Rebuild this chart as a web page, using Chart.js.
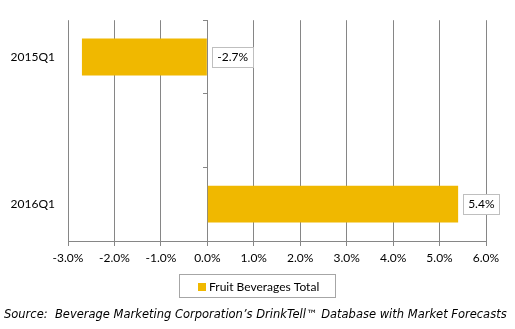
<!DOCTYPE html>
<html>
<head>
<meta charset="utf-8">
<script src="https://cdn.jsdelivr.net/npm/chart.js@4/dist/chart.umd.min.js"></script>
<style>
  html, body { margin: 0; padding: 0; background: #fff; }
  #wrap { width: 515px; height: 329px; }
</style>
</head>
<body>
<div id="wrap"><canvas id="bars" width="515" height="329"></canvas></div>
<script>
// categories (middle slot is an empty spacer row)
const periods = ['2015Q1', '', '2016Q1'];
const growth = [-2.7, null, 5.4];
const seriesName = 'Fruit Beverages Total';
const xTicks = [-3, -2, -1, 0, 1, 2, 3, 4, 5, 6];
const sourceNote = 'Source:  Beverage Marketing Corporation\u2019s DrinkTell\u2122 Database with Market Forecasts';

const gold = 'rgb(240, 184, 0)';
const gridGray = '#868686';
const font = 'Lato';

// value boxes next to each bar
const valueBoxes = {
    id: 'valueBoxes',
    afterDatasetsDraw(chart) {
        const ctx = chart.ctx;
        const meta = chart.getDatasetMeta(0);
        const x = chart.scales.x;
        ctx.save();
        ctx.font = '12px ' + font;
        ctx.textBaseline = 'middle';
        meta.data.forEach((bar, i) => {
            const v = growth[i];
            if (v == null) return;
            const txt = v.toFixed(1) + '%';
            const w = ctx.measureText(txt).width + 10;
            const left = Math.max(x.getPixelForValue(v), x.getPixelForValue(0)) + 5;
            const top = Math.round(bar.y - 10);
            ctx.fillStyle = '#fff';
            ctx.fillRect(left, top, w, 20);
            ctx.strokeStyle = '#bfbfbf';
            ctx.lineWidth = 1;
            ctx.strokeRect(Math.round(left) + 0.5, top + 0.5, Math.round(w), 20);
            ctx.fillStyle = '#000';
            ctx.fillText(txt, left + 5, top + 10.5);
        });
        ctx.restore();
    }
};

// boxed legend and source line under the axis
const footer = {
    id: 'footer',
    afterDraw(chart) {
        const ctx = chart.ctx;
        ctx.save();
        ctx.font = '12px ' + font;
        const tw = ctx.measureText(seriesName).width;
        const bw = 30 + tw + 16;
        const bx = Math.round(chart.width / 2 - bw / 2) + 0.5;
        const by = 274.5;
        ctx.strokeStyle = '#a6a6a6';
        ctx.lineWidth = 1;
        ctx.strokeRect(bx, by, Math.round(bw), 23);
        ctx.fillStyle = gold;
        ctx.fillRect(bx + 18.5, by + 8.5, 8, 8);
        ctx.fillStyle = '#000';
        ctx.textBaseline = 'middle';
        ctx.fillText(seriesName, bx + 29.5, by + 12.5);

        ctx.font = 'italic 11.5px "DejaVu Sans"';
        ctx.fillText(sourceNote, 4, 315, 504);
        ctx.restore();
    }
};

new Chart(document.getElementById('bars'), {
    type: 'bar',
    data: {
        labels: periods,
        datasets: [{
            label: seriesName,
            data: growth,
            backgroundColor: gold,
            borderWidth: 0,
            barPercentage: 0.5,
            categoryPercentage: 1
        }]
    },
    options: {
        indexAxis: 'y',
        responsive: false,
        animation: false,
        layout: { padding: { top: 16, right: 29, bottom: 58, left: 0 } },
        plugins: {
            legend: { display: false },
            tooltip: { enabled: false }
        },
        scales: {
            x: {
                min: -3,
                max: 6,
                afterBuildTicks: (s) => { s.ticks = xTicks.map(v => ({ value: v })); },
                afterFit: (s) => { s.height = 30; },
                grid: { color: gridGray, tickLength: 5, drawTicks: true },
                border: { color: gridGray },
                ticks: {
                    color: '#000',
                    padding: 5,
                    font: { family: font, size: 12 },
                    callback: (v) => v.toFixed(1) + '%'
                }
            },
            y: {
                position: 'left',
                afterFit: (s) => { s.width = 68; },
                grid: { display: false, drawTicks: false },
                border: { display: false },
                ticks: { color: '#000', padding: 13, font: { family: font, size: 12 } }
            },
            // axis line at zero with the small category tick marks
            yZero: {
                type: 'category',
                axis: 'y',
                position: { x: 0 },
                offset: true,
                grid: { drawOnChartArea: false, color: gridGray, tickLength: 4, offset: true },
                border: { color: gridGray },
                ticks: { display: false }
            }
        }
    },
    plugins: [valueBoxes, footer]
});
</script>
</body>
</html>
